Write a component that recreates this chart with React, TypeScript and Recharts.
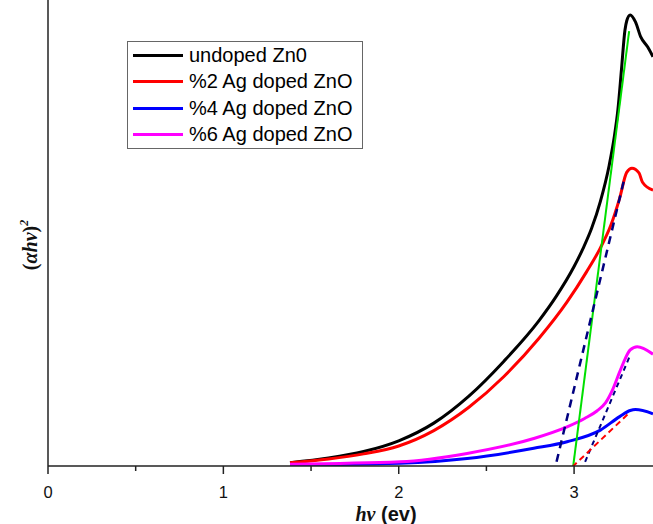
import { LineChart, Line, XAxis, YAxis, Legend } from 'recharts'

// photon energy (eV) and (ahv)^2 in arbitrary units (0..100)
const undopedE = [1.38, 1.6, 1.8, 2.0, 2.2, 2.4, 2.6, 2.8, 2.9, 3.0, 3.05, 3.1, 3.15, 3.2, 3.23, 3.25, 3.27, 3.29, 3.3, 3.32, 3.35, 3.38, 3.42, 3.45]
const undopedA = [0.7, 1.7, 3.1, 5.4, 9.2, 15.0, 22.5, 31.2, 36.5, 42.8, 46.6, 51.0, 56.8, 64.5, 70.8, 76.5, 85.0, 93.5, 95.5, 96.8, 95.3, 92.1, 89.9, 87.8]

const ag2E = [1.38, 1.6, 1.8, 2.0, 2.2, 2.4, 2.6, 2.8, 2.96, 3.07, 3.15, 3.21, 3.26, 3.3, 3.33, 3.37, 3.39, 3.45]
const ag2A = [0.7, 1.5, 2.6, 4.3, 7.6, 12.6, 19.2, 27.4, 35.2, 41.6, 46.8, 51.7, 57.5, 63.0, 63.9, 62.9, 60.9, 59.2]

const ag4E = [1.38, 2.01, 2.39, 2.77, 2.96, 3.15, 3.26, 3.32, 3.35, 3.45]
const ag4A = [0.2, 0.6, 1.6, 3.8, 5.2, 7.7, 10.6, 11.9, 12.1, 11.2]

const ag6E = [1.38, 2.01, 2.39, 2.77, 2.96, 3.06, 3.13, 3.18, 3.22, 3.26, 3.29, 3.32, 3.36, 3.45]
const ag6A = [0.4, 0.9, 2.7, 5.9, 8.4, 10.2, 11.8, 13.6, 16.4, 20.2, 22.9, 24.9, 25.6, 24.0]

// linear extrapolations to the energy axis
const fitUndopedE = [2.995, 3.314]
const fitUndopedA = [0, 93.3]
const fitAg2E = [2.9, 3.29]
const fitAg2A = [0.9, 62.2]
const fitAg6E = [3.063, 3.32]
const fitAg6A = [0.9, 23.8]
const fitAg4E = [2.99, 3.32]
const fitAg4A = [-0.2, 11.6]

const seriesNames = ['undoped Zn0', '%2 Ag doped ZnO', '%4 Ag doped ZnO', '%6 Ag doped ZnO']
const seriesColors = ['#000000', '#ff0000', '#0000ff', '#ff00ff']
const xTicks = [0, 0.5, 1, 1.5, 2, 2.5, 3]

const zip = (e: number[], a: number[]) => e.map((x, i) => ({ x, y: a[i] }))

const curves = [
  zip(undopedE, undopedA),
  zip(ag2E, ag2A),
  zip(ag4E, ag4A),
  zip(ag6E, ag6A),
]

const sans = '"Liberation Sans", Arial, sans-serif'
const serif = '"Liberation Serif", "Times New Roman", serif'

function EnergyTick(props: any) {
  const { x, y, payload } = props
  const major = Number.isInteger(payload.value)
  return (
    <g>
      <line x1={x} x2={x} y1={y} y2={y + (major ? 8 : 5)} stroke="#222" strokeWidth={1.5} />
      {major && (
        <text x={x} y={y + 32} textAnchor="middle" fontFamily={sans} fontSize={16.5} fill="#111">
          {payload.value}
        </text>
      )}
    </g>
  )
}

function LegendBox() {
  return (
    <div
      style={{
        border: '1px solid #666',
        background: '#fff',
        width: 236,
        fontFamily: sans,
        fontSize: 20,
        color: '#000',
        boxSizing: 'border-box',
      }}
    >
      {seriesNames.map((name, i) => (
        <div key={name} style={{ display: 'flex', alignItems: 'center', height: 26.5 }}>
          <span style={{ width: 50, height: 3, marginLeft: 5, marginRight: 6, background: seriesColors[i] }} />
          <span>{name}</span>
        </div>
      ))}
    </div>
  )
}

export default function App() {
  return (
    <div style={{ position: 'absolute', left: 0, top: 0, width: 653, height: 524, background: '#fff' }}>
      <LineChart width={653} height={524} margin={{ top: 0, right: 0, bottom: 0, left: 0 }}>
        <XAxis
          dataKey="x"
          type="number"
          domain={[0, 3.45]}
          allowDataOverflow
          ticks={xTicks}
          tickSize={0}
          tickMargin={0}
          tickLine={false}
          tick={<EnergyTick />}
          height={58}
          axisLine={{ stroke: '#222', strokeWidth: 1.5 }}
          label={{
            content: () => (
              <text x={386} y={521} textAnchor="middle" fontSize={20} fontWeight="bold" fill="#111">
                <tspan fontFamily={serif} fontStyle="italic">hν</tspan>
                <tspan fontFamily={sans}> (ev)</tspan>
              </text>
            ),
          }}
        />
        <YAxis
          type="number"
          domain={[0, 100]}
          allowDataOverflow
          width={48}
          tick={false}
          tickLine={false}
          axisLine={{ stroke: '#222', strokeWidth: 1.5 }}
          label={{
            content: () => (
              <text
                transform="translate(37,245) rotate(-90)"
                textAnchor="middle"
                fontFamily={serif}
                fontSize={20}
                fontWeight="bold"
                fill="#111"
              >
                (<tspan fontStyle="italic">αhν</tspan>)
                <tspan dy={-9} fontSize={12} fontStyle="italic">2</tspan>
              </text>
            ),
          }}
        />
        <Legend
          layout="vertical"
          align="center"
          verticalAlign="middle"
          wrapperStyle={{ left: 127, top: 41, width: 'auto' }}
          content={() => <LegendBox />}
        />
        {curves.map((d, i) => (
          <Line
            key={seriesNames[i]}
            data={d}
            dataKey="y"
            type="monotone"
            stroke={seriesColors[i]}
            strokeWidth={3}
            dot={false}
            isAnimationActive={false}
          />
        ))}
        <Line data={zip(fitUndopedE, fitUndopedA)} dataKey="y" stroke="#00e000" strokeWidth={2} dot={false} isAnimationActive={false} legendType="none" />
        <Line data={zip(fitAg2E, fitAg2A)} dataKey="y" stroke="#000080" strokeWidth={2.5} strokeDasharray="8 6" dot={false} isAnimationActive={false} legendType="none" />
        <Line data={zip(fitAg6E, fitAg6A)} dataKey="y" stroke="#000080" strokeWidth={2} strokeDasharray="5 4" dot={false} isAnimationActive={false} legendType="none" />
        <Line data={zip(fitAg4E, fitAg4A)} dataKey="y" stroke="#ff0000" strokeWidth={2} strokeDasharray="6 4" dot={false} isAnimationActive={false} legendType="none" />
      </LineChart>
    </div>
  )
}
